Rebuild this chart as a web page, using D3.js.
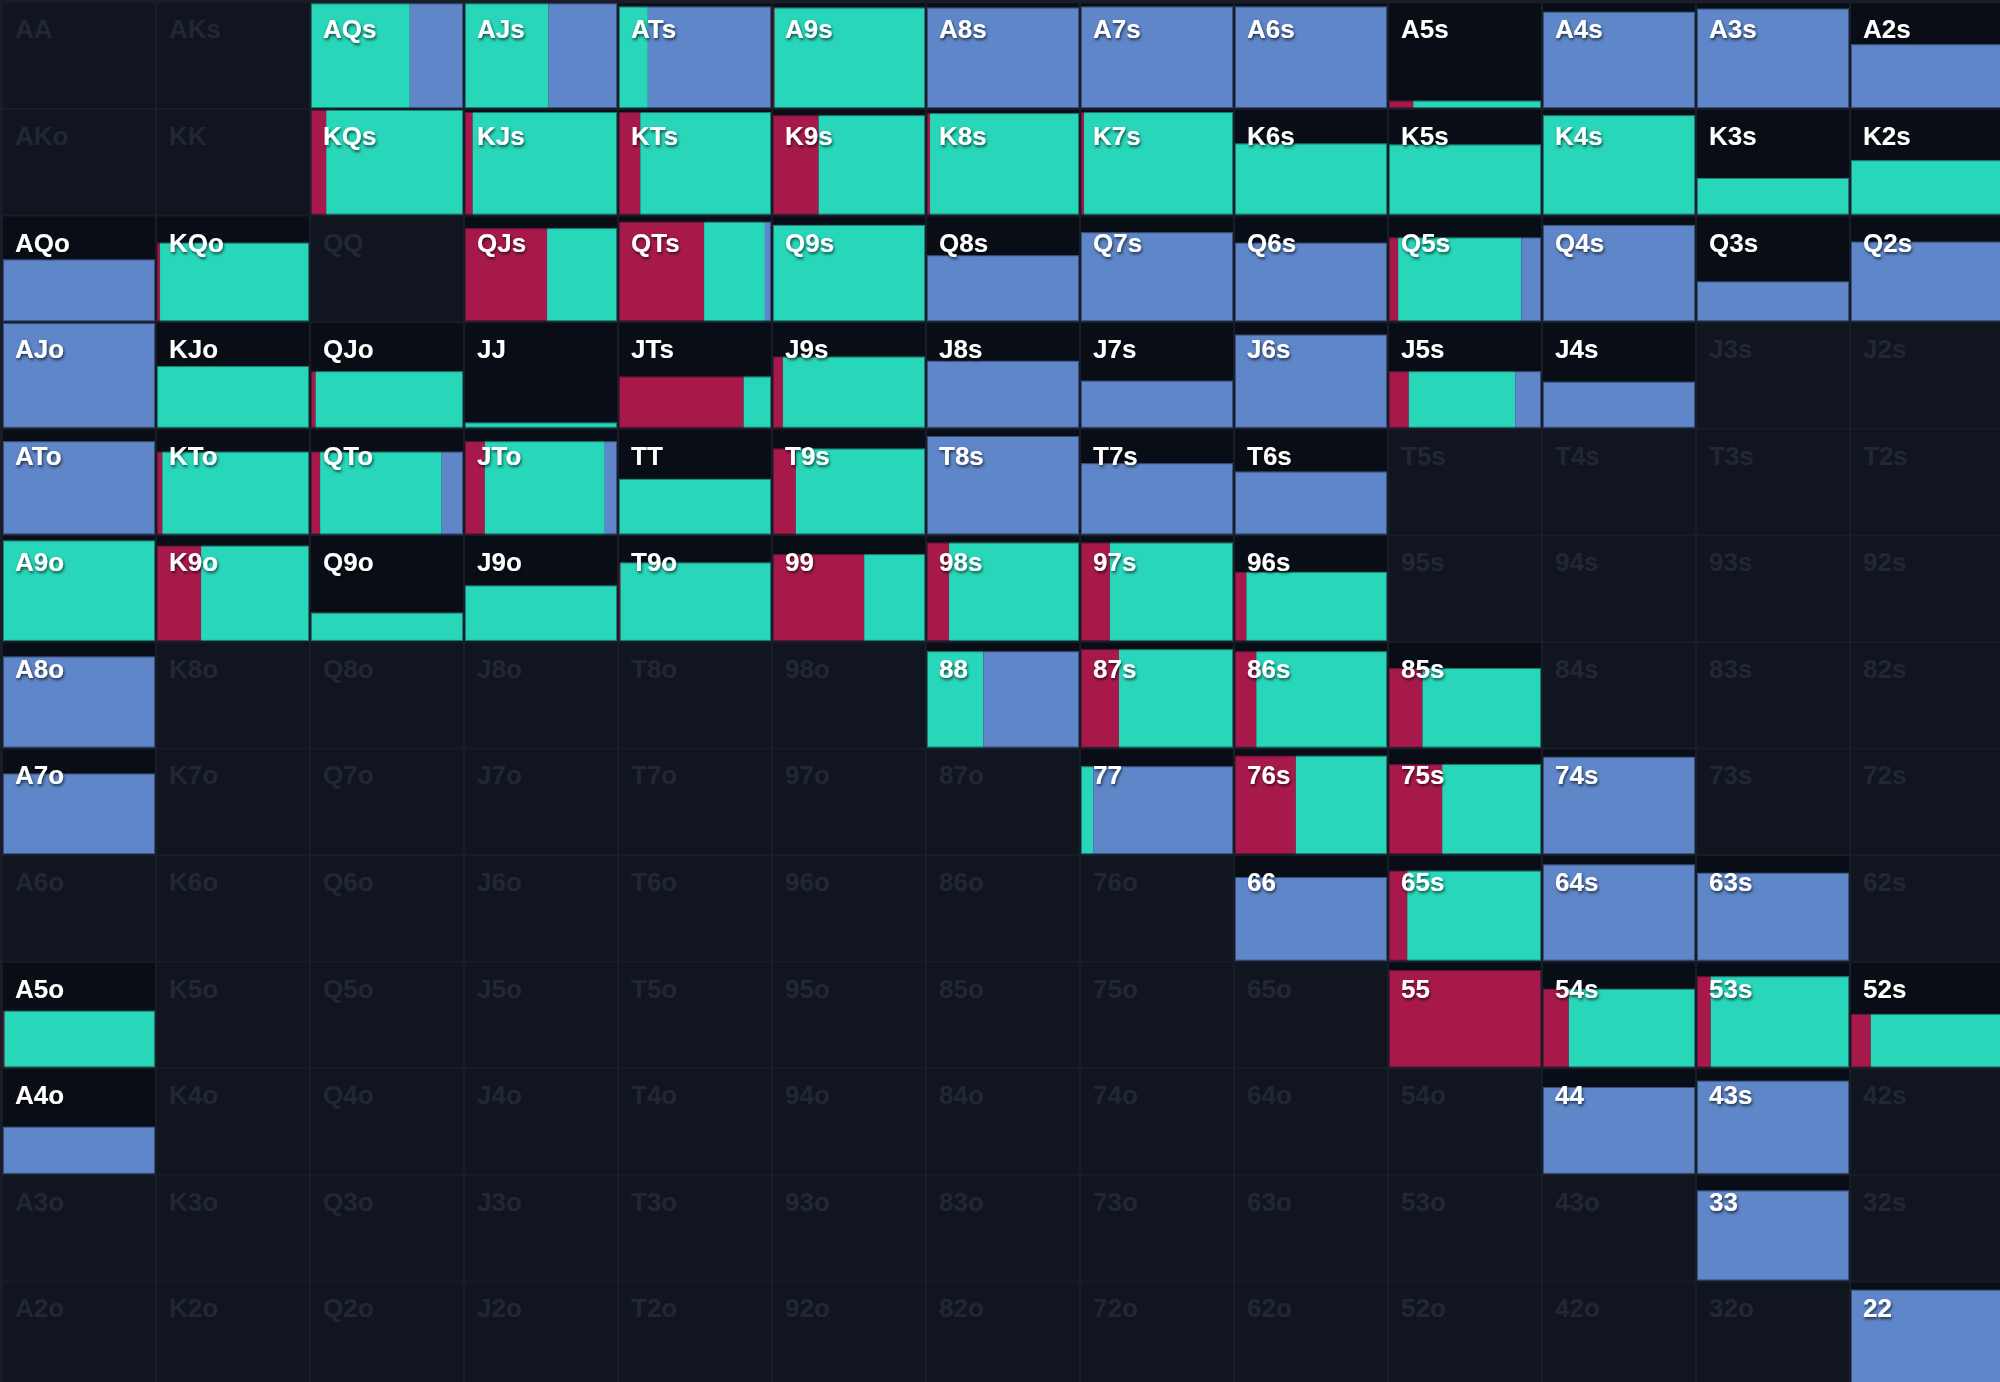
<!DOCTYPE html>
<html>
<head>
<meta charset="utf-8">
<script src="https://cdn.jsdelivr.net/npm/d3@7"></script>
<style>
  html, body { margin: 0; padding: 0; background: #181d27; }
  svg { display: block; }
  text { font-family: "Liberation Sans", Arial, Helvetica, sans-serif; font-weight: bold; }
</style>
</head>
<body>
<svg id="grid"></svg>
<script>
// 13x13 starting-hand grid, bars show how often a hand is played and the action mix
var ranks = ["A","K","Q","J","T","9","8","7","6","5","4","3","2"];

var actions = ["Raise","Call","Check"];
var actionColors = ["#a8194b","#28d6b9","#5e86c8"];

// hands in the range, with overall frequency and share of each action
var hands = [
  "AQs","AJs","ATs","A9s","A8s","A7s","A6s","A5s","A4s","A3s","A2s",
  "KQs","KJs","KTs","K9s","K8s","K7s","K6s","K5s","K4s","K3s","K2s",
  "AQo","KQo","QJs","QTs","Q9s","Q8s","Q7s","Q6s","Q5s","Q4s","Q3s","Q2s",
  "AJo","KJo","QJo","JJ","JTs","J9s","J8s","J7s","J6s","J5s","J4s",
  "ATo","KTo","QTo","JTo","TT","T9s","T8s","T7s","T6s",
  "A9o","K9o","Q9o","J9o","T9o","99","98s","97s","96s",
  "A8o","88","87s","86s","85s",
  "A7o","77","76s","75s","74s",
  "66","65s","64s","63s",
  "A5o","55","54s","53s","52s",
  "A4o","44","43s",
  "33",
  "22"
];
var frequency = [
  1.00,1.00,0.97,0.96,0.96,0.97,0.97,0.07,0.92,0.95,0.61,
  1.00,0.98,0.98,0.95,0.97,0.98,0.68,0.67,0.95,0.35,0.52,
  0.59,0.75,0.89,0.95,0.92,0.63,0.85,0.75,0.80,0.92,0.38,0.76,
  1.00,0.59,0.54,0.05,0.49,0.68,0.64,0.45,0.89,0.54,0.44,
  0.89,0.79,0.79,0.89,0.53,0.82,0.94,0.68,0.60,
  0.96,0.91,0.27,0.53,0.75,0.83,0.94,0.94,0.66,
  0.87,0.92,0.94,0.92,0.76,
  0.77,0.84,0.94,0.86,0.93,
  0.80,0.86,0.92,0.84,
  0.54,0.93,0.75,0.87,0.51,
  0.45,0.83,0.89,
  0.86,
  0.93
];
var raiseShare = [
  0,0,0,0.01,0,0,0,0.16,0,0,0,
  0.10,0.05,0.14,0.30,0.02,0.02,0,0,0,0,0,
  0,0.02,0.54,0.56,0,0,0,0,0.06,0,0,0,
  0,0,0.03,0,0.82,0.065,0,0,0,0.13,0,
  0,0.035,0.06,0.13,0,0.15,0,0,0,
  0,0.29,0,0,0.01,0.60,0.145,0.19,0.075,
  0,0,0.25,0.14,0.22,
  0,0,0.40,0.35,0,
  0,0.12,0,0,
  0.01,1.00,0.17,0.09,0.13,
  0,0,0,
  0,
  0
];
var callShare = [
  0.65,0.55,0.19,0.99,0,0,0,0.84,0,0,0,
  0.90,0.95,0.86,0.70,0.98,0.98,1.00,1.00,1.00,1.00,1.00,
  0,0.98,0.46,0.40,1.00,0,0,0,0.81,0,0,0,
  0,1.00,0.97,1.00,0.18,0.935,0,0,0,0.70,0,
  0,0.965,0.80,0.79,1.00,0.85,0,0,0,
  1.00,0.71,1.00,1.00,0.99,0.40,0.855,0.81,0.925,
  0,0.37,0.75,0.86,0.78,
  0,0.08,0.60,0.65,0,
  0,0.88,0,0,
  0.99,0,0.83,0.91,0.87,
  0,0,0,
  0,
  0
];
var checkShare = [
  0.35,0.45,0.81,0,1.00,1.00,1.00,0,1.00,1.00,1.00,
  0,0,0,0,0,0,0,0,0,0,0,
  1.00,0,0,0.04,0,1.00,1.00,1.00,0.13,1.00,1.00,1.00,
  1.00,0,0,0,0,0,1.00,1.00,1.00,0.17,1.00,
  1.00,0,0.14,0.08,0,0,1.00,1.00,1.00,
  0,0,0,0,0,0,0,0,0,
  1.00,0.63,0,0,0,
  1.00,0.92,0,0,1.00,
  1.00,0,1.00,1.00,
  0,0,0,0,0,
  1.00,1.00,1.00,
  1.00,
  1.00
];

var width = 2000
  , height = 1382
  , cell_pad = 1
  , label_dx = 12
  , label_dy = 35;

function handName(r, c){
  if (r == c) return ranks[r] + ranks[c];
  if (c > r) return ranks[r] + ranks[c] + "s";
  return ranks[c] + ranks[r] + "o";
}

var cells = [];
ranks.forEach(function(rr, r){
  ranks.forEach(function(cc, c){
    var name = handName(r, c)
      , idx = hands.indexOf(name);
    cells.push({
      name: name, row: rr, col: cc, on: idx >= 0,
      freq: idx >= 0 ? frequency[idx] : 0,
      mix: idx >= 0 ? [raiseShare[idx], callShare[idx], checkShare[idx]] : [0,0,0]
    });
  });
});

var svg = d3.select("#grid")
  .attr("width", width)
  .attr("height", height);

var defs = svg.append("defs");
defs.append("filter")
  .attr("id","shadow")
  .attr("x","-20%").attr("y","-30%").attr("width","140%").attr("height","170%")
 .append("feDropShadow")
  .attr("dx",1).attr("dy",2).attr("stdDeviation",1.4)
  .attr("flood-color","#000").attr("flood-opacity",0.65);

var x = d3.scaleBand().domain(ranks).range([2, 2004]);
var y = d3.scaleBand().domain(ranks).range([2.4, 1388]);

var innerW = x.bandwidth() - 2*cell_pad
  , innerH = y.bandwidth() - 2*cell_pad;

var hScale = d3.scaleLinear().domain([0,1]).range([0, innerH]);
var wScale = d3.scaleLinear().domain([0,1]).range([0, innerW]);

var cellG = svg.selectAll(".cell")
  .data(cells)
 .enter().append("g")
  .attr("class","cell")
  .attr("transform", d => "translate(" + (x(d.col)+cell_pad) + "," + (y(d.row)+cell_pad) + ")");

cellG.append("rect")
  .attr("width", innerW)
  .attr("height", innerH)
  .attr("fill", d => d.on ? "#090d16" : "#10151f");

// stacked action segments, left to right, bar height = frequency
cellG.filter(d => d.on).each(function(d){
  var g = d3.select(this)
    , h = hScale(d.freq)
    , x0 = 0;
  var segs = d.mix.map(function(m, i){
    var s = {x: x0, w: wScale(m), color: actionColors[i], action: actions[i]};
    x0 += s.w;
    return s;
  }).filter(s => s.w > 0);
  g.selectAll(".seg")
    .data(segs)
   .enter().append("rect")
    .attr("class","seg")
    .attr("x", s => s.x)
    .attr("y", innerH - h)
    .attr("width", s => s.w)
    .attr("height", h)
    .attr("fill", s => s.color);
  // thin dark outline round the whole bar
  g.append("rect")
    .attr("x", 0.5).attr("y", innerH - h + 0.5)
    .attr("width", innerW - 1).attr("height", Math.max(h - 1, 0))
    .attr("fill","none")
    .attr("stroke","#0b1220")
    .attr("stroke-opacity",0.45);
});

cellG.append("text")
  .attr("x", label_dx)
  .attr("y", label_dy)
  .attr("font-size", 26)
  .attr("fill", d => d.on ? "#ffffff" : "#222833")
  .attr("filter", d => d.on ? "url(#shadow)" : null)
  .text(d => d.name);
</script>
</body>
</html>
